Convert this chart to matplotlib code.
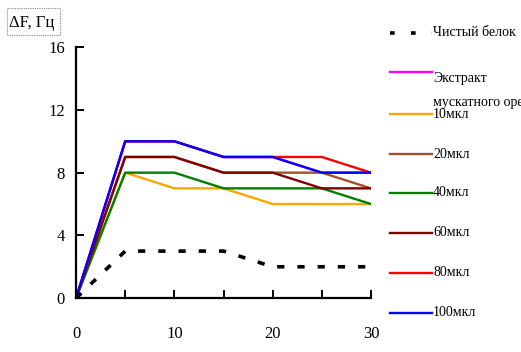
import matplotlib
matplotlib.use("Agg")
import matplotlib.pyplot as plt
from matplotlib.lines import Line2D
from matplotlib.patches import Rectangle

plt.rcParams['font.family'] = ['Liberation Serif', 'DejaVu Serif']

x = [0, 5, 10, 15, 20, 25, 30]
labels = ["Чистый белок", "Экстракт\nмускатного ореха", "10мкл", "20мкл",
          "40мкл", "60мкл", "80мкл", "100мкл"]
pure = [0, 3, 3, 3, 2, 2, 2]
extract = [0, 10, 10, 9, 9, 8, 8]
v10 = [0, 8, 7, 7, 6, 6, 6]
v20 = [0, 9, 9, 8, 8, 8, 7]
v40 = [0, 8, 8, 7, 7, 7, 6]
v60 = [0, 9, 9, 8, 8, 7, 7]
v80 = [0, 10, 10, 9, 9, 9, 8]
v100 = [0, 10, 10, 9, 9, 8, 8]
series = [pure, extract, v10, v20, v40, v60, v80, v100]
colors = ['black', '#FF00FF', '#FFA500', '#A0522D', '#008000', '#800000', '#FF0000', '#0000FF']

fig = plt.figure(figsize=(5.21, 3.52), dpi=100)
ax = fig.add_axes([0.146, 0.153, 0.566, 0.713])

for i, (vals, c) in enumerate(zip(series, colors)):
    if i == 0:
        ax.plot(x, vals, color=c, lw=2.6, linestyle=(0, (2, 3.6)), solid_capstyle='butt', zorder=3)
    else:
        ax.plot(x, vals, color=c, lw=1.7, zorder=2)

ax.set_xlim(0, 30)
ax.set_ylim(0, 16)
ax.set_xticks([0, 10, 20, 30])
ax.set_xticks([5, 15, 25], minor=True)
ax.set_yticks([0, 4, 8, 12, 16])
for s in ['top', 'right']:
    ax.spines[s].set_visible(False)
for s in ['left', 'bottom']:
    ax.spines[s].set_linewidth(1.6)
ax.tick_params(axis='both', which='both', direction='in', length=6, width=1.4, labelsize=12)
ax.tick_params(axis='x', which='both', pad=20)
ax.tick_params(axis='y', pad=8)

# y-label in dashed box
fig.text(0.018, 0.935, "ΔF, Гц", fontsize=12, ha='left', va='center')
fig.patches.append(Rectangle((0.013, 0.9), 0.103, 0.077, transform=fig.transFigure,
                             fill=False, ec='#888888', lw=0.8, ls=(0, (1, 1))))

# legend drawn manually
W, H = 521, 352
ys = [33, 72, 114, 154, 193, 233, 273, 313]
for i, (lab, c, yy) in enumerate(zip(labels, colors, ys)):
    fy = 1 - yy / H
    if i == 0:
        ln = Line2D([390 / W, 432 / W], [fy, fy], color=c, lw=2.6,
                    linestyle=(0, (1.3, 4.5)), solid_capstyle='butt', transform=fig.transFigure)
    else:
        ln = Line2D([390 / W, 432 / W], [fy, fy], color=c, lw=1.7, transform=fig.transFigure)
    fig.lines.append(ln)
    fig.text(433 / W, fy, lab, fontsize=10, ha='left', va='top' if '\n' in lab else 'center',
             linespacing=2.1, transform=fig.transFigure)

fig.savefig("out.png", dpi=100)
